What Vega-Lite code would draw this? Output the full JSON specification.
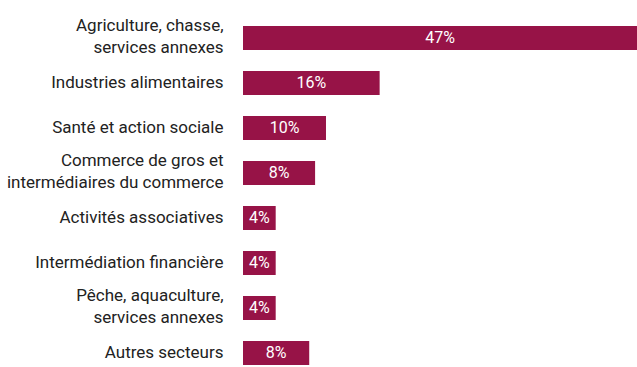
{
  "$schema": "https://vega.github.io/schema/vega-lite/v6.json",
  "autosize": "none",
  "width": 394,
  "height": 339,
  "padding": {"left": 243, "top": 26, "right": 0, "bottom": 2},
  "background": "white",
  "config": {"view": {"stroke": null}},
  "data": {
    "values": [
      {"secteur": "Agriculture, chasse,|services annexes", "value": 47, "label": "47%"},
      {"secteur": "Industries alimentaires", "value": 16.3, "label": "16%"},
      {"secteur": "Santé et action sociale", "value": 9.9, "label": "10%"},
      {"secteur": "Commerce de gros et|intermédiaires du commerce", "value": 8.6, "label": "8%"},
      {"secteur": "Activités associatives", "value": 3.9, "label": "4%"},
      {"secteur": "Intermédiation financière", "value": 3.9, "label": "4%"},
      {"secteur": "Pêche, aquaculture,|services annexes", "value": 3.9, "label": "4%"},
      {"secteur": "Autres secteurs", "value": 7.9, "label": "8%"}
    ]
  },
  "transform": [{"calculate": "datum.value / 2", "as": "mid"}],
  "encoding": {
    "y": {
      "field": "secteur",
      "type": "nominal",
      "sort": null,
      "scale": {"paddingInner": 0.4667, "paddingOuter": 0},
      "axis": {
        "title": null,
        "domain": false,
        "ticks": false,
        "labelPadding": 20,
        "labelFont": "Roboto",
        "labelFontSize": 17,
        "labelColor": "#222222",
        "labelLineHeight": 22,
        "labelExpr": "split(datum.label, '|')",
        "labelOffset": {"condition": {"test": "indexof(datum.value, '|') >= 0", "value": -12}, "value": 0},
        "labelLimit": 300
      }
    }
  },
  "layer": [
    {
      "mark": {"type": "bar", "color": "#971347"},
      "encoding": {
        "x": {"field": "value", "type": "quantitative", "scale": {"domain": [0, 47], "nice": false}, "axis": null}
      }
    },
    {
      "mark": {"type": "text", "color": "white", "font": "Roboto", "fontSize": 16, "align": "center", "baseline": "middle"},
      "encoding": {
        "x": {"field": "mid", "type": "quantitative"},
        "text": {"field": "label"}
      }
    }
  ]
}
